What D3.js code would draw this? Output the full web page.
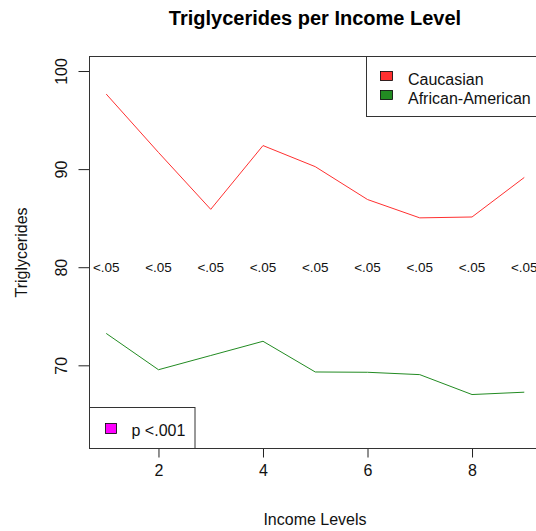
<!DOCTYPE html>
<html><head><meta charset="utf-8">
<script src="https://cdn.jsdelivr.net/npm/d3@7"></script>
<style>html,body{margin:0;padding:0;background:#fff;overflow:hidden}svg{display:block}text{font-family:"Liberation Sans",Arial,sans-serif}</style>
</head><body>
<script>
const incomeLevels = [1, 2, 3, 4, 5, 6, 7, 8, 9];
const caucasian = [97.65, 91.7, 85.9, 92.4, 90.25, 86.9, 85.03, 85.12, 89.15];
const africanAmerican = [73.25, 69.55, 71.0, 72.45, 69.32, 69.29, 69.05, 67.02, 67.26];
const pLabels = ["<.05", "<.05", "<.05", "<.05", "<.05", "<.05", "<.05", "<.05", "<.05"];
const pLabelLevel = 80;
const xTicks = [2, 4, 6, 8];
const yTicks = [70, 80, 90, 100];
const seriesNames = ["Caucasian", "African-American"];
const seriesColors = ["#ff3030", "#228b22"];
const sigLegend = "p <.001";
const sigColor = "#ff00ff";

const W = 536, H = 531;
const L = 89.5, T = 56.5, B = 448.5, R = 541;
const svg = d3.select("body").append("svg").attr("width", W).attr("height", H);

const x = d3.scaleLinear().domain([0.68, 9.32]).range([L, R]);
const y = d3.scaleLinear().domain([61.52, 101.48]).range([B, T]);

// title
svg.append("text").attr("x", 315).attr("y", 25).attr("text-anchor", "middle")
  .attr("font-size", 20).attr("font-weight", "bold").text("Triglycerides per Income Level");

// lines
const line = d3.line().x((d, i) => x(incomeLevels[i])).y(d => y(d));
[caucasian, africanAmerican].forEach((s, k) => {
  svg.append("path").datum(s).attr("d", line).attr("fill", "none")
    .attr("stroke", seriesColors[k]).attr("stroke-width", 1);
});

// p labels
svg.append("g").selectAll("text").data(pLabels).join("text")
  .attr("x", (d, i) => x(incomeLevels[i])).attr("y", y(pLabelLevel))
  .attr("dy", "0.35em").attr("text-anchor", "middle").attr("font-size", 13.5)
  .attr("fill", "#111").text(d => d);

// axes
const xAxis = svg.append("g").attr("transform", `translate(0,${B})`)
  .call(d3.axisBottom(x).tickValues(xTicks).tickSize(9).tickPadding(7).tickFormat(d3.format("d")));
xAxis.select(".domain").remove();
xAxis.selectAll("text").attr("font-size", 16).attr("fill", "#111");
xAxis.selectAll("line").attr("stroke", "#222");

const yAxis = svg.append("g").attr("transform", `translate(${L},0)`)
  .call(d3.axisLeft(y).tickValues(yTicks).tickSize(11).tickPadding(0).tickFormat(d3.format("d")));
yAxis.select(".domain").remove();
yAxis.selectAll("line").attr("stroke", "#222");
yAxis.selectAll("text").attr("font-size", 16).attr("fill", "#111")
  .attr("x", 0).attr("dy", 0).attr("text-anchor", "middle")
  .attr("transform", "translate(-23,0) rotate(-90)");

// plot box
svg.append("rect").attr("x", L).attr("y", T).attr("width", R - L).attr("height", B - T)
  .attr("fill", "none").attr("stroke", "#333").attr("stroke-width", 1);

// axis titles
svg.append("text").attr("x", 315).attr("y", 525).attr("text-anchor", "middle")
  .attr("font-size", 16).attr("fill", "#111").text("Income Levels");
svg.append("text").attr("transform", "translate(27,252.5) rotate(-90)")
  .attr("text-anchor", "middle").attr("font-size", 16).attr("fill", "#111").text("Triglycerides");

// top-right legend
const lg = svg.append("g");
lg.append("rect").attr("x", 366.5).attr("y", T).attr("width", 200).attr("height", 60)
  .attr("fill", "#fff").attr("stroke", "#333");
seriesNames.forEach((n, i) => {
  lg.append("rect").attr("x", 380.5).attr("y", 71.5 + i * 19).attr("width", 12).attr("height", 9)
    .attr("fill", seriesColors[i]).attr("stroke", "#000").attr("stroke-width", 0.8);
  lg.append("text").attr("x", 408).attr("y", 85 + i * 18.5).attr("font-size", 16)
    .attr("fill", "#111").text(n);
});

// bottom-left legend
const lg2 = svg.append("g");
lg2.append("rect").attr("x", L).attr("y", 407.5).attr("width", 105.5).attr("height", B - 407.5)
  .attr("fill", "#fff").attr("stroke", "#333");
lg2.append("rect").attr("x", 105.5).attr("y", 423.5).attr("width", 11).attr("height", 10)
  .attr("fill", sigColor).attr("stroke", "#000").attr("stroke-width", 0.8);
lg2.append("text").attr("x", 131.5).attr("y", 436).attr("font-size", 16)
  .attr("fill", "#111").text(sigLegend);
</script>
</body></html>
